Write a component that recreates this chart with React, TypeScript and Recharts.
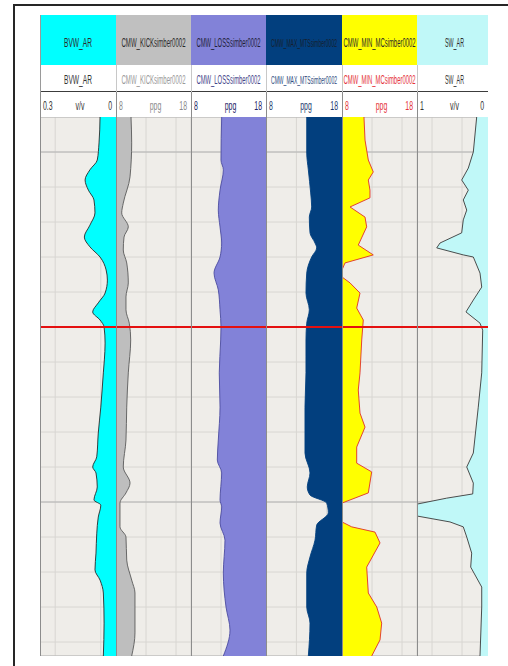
import { useLayoutEffect, useRef, useState } from "react";
import { AreaChart, Area, XAxis, YAxis, CartesianGrid, ReferenceLine } from "recharts";

// depth axis (ft), minor grid every 10 ft, major every 100 ft
const depthDomain: [number, number] = [1090, 1244];
const minorDepths = [1100, 1110, 1120, 1130, 1140, 1150, 1160, 1170, 1180, 1190, 1200, 1210, 1220, 1230, 1240];
const majorDepths = [1100, 1200];
const markerDepth = 1150;

// BVW_AR (v/v)
const bvwDepth = [1090, 1097.4, 1102.3, 1105.1, 1108, 1110.9, 1113.7, 1117.4, 1120.9, 1124.3, 1127.1, 1130, 1133.7, 1136.6, 1140.3, 1143.1, 1145.7, 1148, 1150, 1154.6, 1159.4, 1163.1, 1172.9, 1180.3, 1187.1, 1190, 1191.7, 1195.7, 1199.4, 1200.9, 1204.3, 1209.1, 1214.6, 1219.4, 1222.3, 1226, 1234.6, 1244];
const bvwValue = [0.063, 0.067, 0.074, 0.103, 0.122, 0.109, 0.087, 0.083, 0.103, 0.125, 0.103, 0.063, 0.039, 0.034, 0.043, 0.07, 0.092, 0.063, 0.047, 0.043, 0.046, 0.05, 0.06, 0.07, 0.076, 0.092, 0.079, 0.074, 0.087, 0.06, 0.07, 0.076, 0.079, 0.083, 0.063, 0.05, 0.047, 0.05];

// CMW_KICKsimber0002 (ppg)
const kickDepth = [1090, 1097.4, 1107.1, 1114.6, 1117.4, 1121.4, 1124.3, 1128, 1131.7, 1137.4, 1141.4, 1145.1, 1148.9, 1153.7, 1163.1, 1172.9, 1182.3, 1190, 1194.6, 1197.4, 1200.3, 1207.1, 1210, 1216.6, 1222.3, 1226, 1237.4, 1244];
const kickValue = [10.0, 10.09, 9.87, 8.97, 8.76, 9.64, 9.07, 8.97, 9.43, 9.64, 9.33, 9.33, 9.77, 9.96, 9.64, 9.43, 9.33, 8.97, 9.87, 9.33, 8.53, 8.53, 9.33, 9.43, 10.09, 10.53, 10.53, 10.09];

// CMW_LOSSsimber0002 (ppg)
const lossDepth = [1090, 1102.3, 1105.1, 1110.9, 1116.6, 1121.4, 1126, 1130, 1134.6, 1139.4, 1145.1, 1150, 1153.7, 1163.1, 1172.9, 1182.3, 1188, 1191.7, 1199.4, 1201.4, 1206, 1210.9, 1220.3, 1230, 1236.6, 1244];
const lossValue = [12.09, 12.0, 12.31, 11.87, 11.64, 11.87, 12.09, 11.87, 11.07, 11.64, 11.87, 12.0, 11.96, 11.77, 11.87, 11.64, 11.51, 12.09, 11.87, 12.09, 11.87, 12.53, 12.31, 12.67, 13.2, 12.31];

// CMW_MAX_MTSsimber0002 (ppg)
const mtsDepth = [1090, 1100.3, 1105.1, 1111.7, 1115.7, 1118.6, 1123.1, 1126, 1127.4, 1130, 1134.6, 1140.3, 1145.1, 1148.9, 1153.7, 1163.1, 1172.9, 1186, 1191.7, 1195.7, 1198, 1200.3, 1203.1, 1206.6, 1210.9, 1215.7, 1220.3, 1230, 1234.6, 1244];
const mtsValue = [13.36, 13.36, 13.57, 13.88, 14.01, 13.7, 13.79, 14.45, 14.67, 14.01, 13.36, 13.26, 13.7, 13.36, 13.26, 13.26, 13.13, 13.13, 13.79, 13.43, 13.79, 15.99, 16.2, 14.67, 14.45, 13.79, 13.36, 13.36, 13.79, 13.57];

// CMW_MIN_MCsimber0002 (ppg)
const mcDepth = [1090, 1096.6, 1102.3, 1105.7, 1108, 1110.9, 1113.1, 1115.7, 1118.6, 1121.4, 1126.6, 1129.4, 1131.7, 1133.7, 1135.7, 1137.4, 1140.3, 1144.6, 1148, 1153.7, 1163.1, 1168, 1174.6, 1178.6, 1184.3, 1188.9, 1191.4, 1197.4, 1200.3, 1205.7, 1207.1, 1208.6, 1211.7, 1218.6, 1226, 1230, 1234.6, 1239.4, 1244];
const mcValue = [10.93, 11.07, 11.51, 12.17, 11.51, 11.73, 11.73, 9.07, 11.07, 11.29, 10.17, 12.17, 8.4, 8.0, 8.0, 9.07, 10.4, 9.96, 10.84, 10.63, 10.4, 10.17, 10.4, 11.07, 9.96, 9.96, 11.96, 11.51, 8.0, 8.0, 9.29, 12.4, 13.07, 11.29, 11.51, 12.63, 13.29, 13.07, 11.96];

// SW_AR (v/v)
const swDepth = [1090, 1100, 1104.6, 1108, 1110.9, 1113.7, 1116.6, 1119.4, 1123.1, 1126, 1127.4, 1129.4, 1130, 1134.6, 1138.6, 1142.3, 1145.7, 1148.9, 1150.9, 1163.1, 1172.9, 1186, 1190, 1194.6, 1197.7, 1198.9, 1200.6, 1204, 1205.7, 1207.1, 1210, 1214.6, 1218.6, 1224.3, 1230, 1244];
const swValue = [0.204, 0.249, 0.316, 0.404, 0.316, 0.383, 0.337, 0.383, 0.404, 0.693, 0.737, 0.383, 0.249, 0.16, 0.137, 0.249, 0.347, 0.16, 0.124, 0.137, 0.183, 0.249, 0.337, 0.249, 0.257, 0.604, 1.0, 1.0, 0.56, 0.383, 0.337, 0.271, 0.284, 0.137, 0.137, 0.16];

const FONT = "'Liberation Sans', Arial, sans-serif";
const HEAD_H = 102;
const PLOT_H = 539;
const PLOT_BG = "#efede9";
const LABEL_SCALE = 0.58;

type TrackDef = {
  name: string; left: string; unit: string; right: string;
  domain: [number, number]; reversed: boolean; base: number; ticks: number[];
  depths: number[]; values: number[]; curve: "monotone" | "linear";
  width: number; fill: string; stroke: string; head: string; headText: string;
  nameColor: string; scaleColor: string; titleLen: number; titleSize: number;
};

const tracks: TrackDef[] = [
  {
    name: "BVW_AR", left: "0.3", unit: "v/v", right: "0", domain: [0, 0.3], reversed: true, base: 0,
    ticks: [0.06, 0.12, 0.18, 0.24], depths: bvwDepth, values: bvwValue, curve: "monotone",
    width: 76, fill: "#00ffff", stroke: "#2a2a2a", head: "#00ffff", headText: "#2b2b2b",
    nameColor: "#333", scaleColor: "#333", titleLen: 28, titleSize: 12,
  },
  {
    name: "CMW_KICKsimber0002", left: "8", unit: "ppg", right: "18", domain: [8, 18], reversed: false, base: 8,
    ticks: [10, 12, 14, 16], depths: kickDepth, values: kickValue, curve: "monotone",
    width: 75, fill: "#bebebe", stroke: "#5a5a5a", head: "#c0c0c0", headText: "#2b2b2b",
    nameColor: "#9a9a9a", scaleColor: "#8a8a8a", titleLen: 64, titleSize: 12,
  },
  {
    name: "CMW_LOSSsimber0002", left: "8", unit: "ppg", right: "18", domain: [8, 18], reversed: false, base: 18,
    ticks: [10, 12, 14, 16], depths: lossDepth, values: lossValue, curve: "monotone",
    width: 75, fill: "#8282d8", stroke: "#4c4ca0", head: "#8282d8", headText: "#1f1f3a",
    nameColor: "#45458a", scaleColor: "#232366", titleLen: 64, titleSize: 12,
  },
  {
    name: "CMW_MAX_MTSsimber0002", left: "8", unit: "ppg", right: "18", domain: [8, 18], reversed: false, base: 18,
    ticks: [10, 12, 14, 16], depths: mtsDepth, values: mtsValue, curve: "monotone",
    width: 76, fill: "#023f7e", stroke: "#023f7e", head: "#023f7e", headText: "#16202f",
    nameColor: "#2c4a7c", scaleColor: "#1e3a6e", titleLen: 66, titleSize: 10,
  },
  {
    name: "CMW_MIN_MCsimber0002", left: "8", unit: "ppg", right: "18", domain: [8, 18], reversed: false, base: 8,
    ticks: [10, 12, 14, 16], depths: mcDepth, values: mcValue, curve: "linear",
    width: 75, fill: "#ffff00", stroke: "#e0302a", head: "#ffff00", headText: "#2b2b2b",
    nameColor: "#e5343a", scaleColor: "#e5343a", titleLen: 72, titleSize: 12,
  },
  {
    name: "SW_AR", left: "1", unit: "v/v", right: "0", domain: [0, 1], reversed: true, base: 0,
    ticks: [0.2, 0.4, 0.6, 0.8], depths: swDepth, values: swValue, curve: "linear",
    width: 75, fill: "#c0f8f8", stroke: "#3a3a3a", head: "#c0f8f8", headText: "#2b2b2b",
    nameColor: "#333", scaleColor: "#333", titleLen: 19, titleSize: 12,
  },
];

const VISIBLE_W = 448; // tracks are cut at the right edge

// condensed header text: scaled horizontally to a target width (or by a fixed factor)
function FitText({ x, y, anchor, width, scale, size, fill, children }: {
  x: number; y: number; anchor: "start" | "middle" | "end"; width?: number; scale?: number;
  size: number; fill: string; children: string;
}) {
  const ref = useRef<SVGTextElement>(null);
  const [sx, setSx] = useState(scale ?? 0.55);
  useLayoutEffect(() => {
    if (width && ref.current) {
      const w = ref.current.getComputedTextLength();
      if (w > 0) setSx(width / w);
    }
  }, [width, children]);
  return (
    <text ref={ref} transform={`translate(${x},${y}) scale(${sx},1)`} textAnchor={anchor}
      fontSize={size} fill={fill} fontFamily={FONT}>{children}</text>
  );
}

function Track({ t, x }: { t: TrackDef; x: number }) {
  const data = t.depths.map((d, i) => ({ depth: d, v: t.values[i] }));
  const visible = Math.min(t.width, VISIBLE_W - x);
  return (
    <div style={{ position: "absolute", left: x, top: 0, width: t.width, height: HEAD_H + PLOT_H }}>
      <svg width={t.width} height={HEAD_H} style={{ display: "block" }}>
        <rect x={0} y={0} width={t.width} height={HEAD_H} fill="#fff" />
        <rect x={0} y={0} width={t.width} height={50} fill={t.head} />
        <FitText x={t.width / 2} y={32} anchor="middle" width={t.titleLen} size={t.titleSize} fill={t.headText}>{t.name}</FitText>
        <FitText x={t.width / 2} y={69} anchor="middle" width={t.titleLen} size={t.titleSize} fill={t.nameColor}>{t.name}</FitText>
        <line x1={0} x2={t.width} y1={76.5} y2={76.5} stroke="#3c3c3c" />
        <FitText x={3} y={95} anchor="start" scale={LABEL_SCALE} size={12} fill={t.scaleColor}>{t.left}</FitText>
        <FitText x={visible / 2 + 2} y={95} anchor="middle" scale={LABEL_SCALE} size={12} fill={t.scaleColor}>{t.unit}</FitText>
        <FitText x={visible - 4} y={95} anchor="end" scale={LABEL_SCALE} size={12} fill={t.scaleColor}>{t.right}</FitText>
      </svg>
      <div style={{ background: PLOT_BG, width: t.width, height: PLOT_H }}>
        <AreaChart layout="vertical" width={t.width} height={PLOT_H} data={data}
          margin={{ top: 0, right: 0, bottom: 0, left: 0 }}>
          <XAxis type="number" domain={t.domain} reversed={t.reversed} ticks={t.ticks} hide allowDataOverflow />
          <YAxis type="number" dataKey="depth" domain={depthDomain} ticks={minorDepths} hide allowDataOverflow />
          <YAxis yAxisId="major" type="number" dataKey="depth" domain={depthDomain} ticks={majorDepths} hide allowDataOverflow />
          <CartesianGrid stroke="#d8d6d2" strokeWidth={1} />
          <CartesianGrid yAxisId="major" vertical={false} stroke="#b4b4b4" strokeWidth={1} />
          <Area type={t.curve} dataKey="v" baseValue={t.base} fill={t.fill} fillOpacity={1}
            stroke={t.stroke} strokeWidth={0.9} dot={false} activeDot={false} isAnimationActive={false} />
          <ReferenceLine y={markerDepth} stroke="#e41010" strokeWidth={2} />
        </AreaChart>
      </div>
    </div>
  );
}

export default function App() {
  const lefts: number[] = [];
  tracks.reduce((acc, t) => { lefts.push(acc); return acc + t.width; }, 0);
  return (
    <div style={{ position: "absolute", left: 0, top: 0, width: 508, height: 666, background: "#fff", overflow: "hidden" }}>
      <div style={{ position: "absolute", left: 13, top: 4, width: 500, height: 670, borderTop: "2px solid #262626", borderLeft: "2px solid #262626" }} />
      <div style={{ position: "absolute", left: 40, top: 15, width: VISIBLE_W, height: HEAD_H + PLOT_H, overflow: "hidden" }}>
        {tracks.map((t, i) => <Track key={t.name} t={t} x={lefts[i]} />)}
        {lefts.map((x, i) => (
          <div key={"sep" + i}>
            <div style={{ position: "absolute", left: x, top: i === 0 ? 0 : 50, width: 1, height: i === 0 ? 77 : 27, background: i === 0 ? "#9a9a9a" : "#c8c8c8" }} />
            <div style={{ position: "absolute", left: x, top: 77, width: 1, height: HEAD_H + PLOT_H - 77, background: "#8c8c8c" }} />
          </div>
        ))}
      </div>
    </div>
  );
}
